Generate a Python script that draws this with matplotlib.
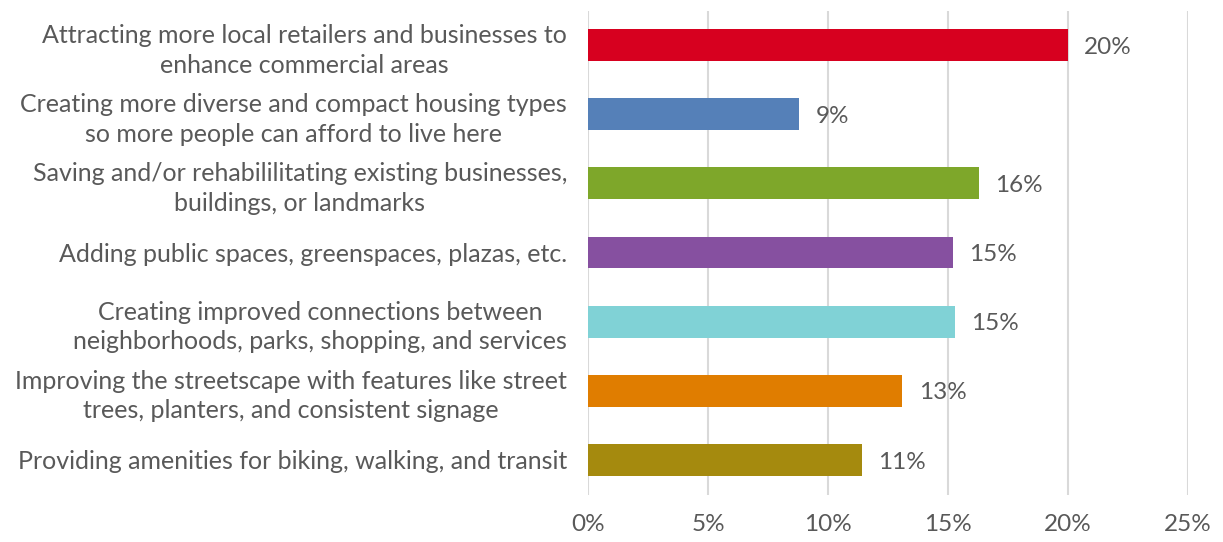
import matplotlib
matplotlib.use('Agg')
import matplotlib.pyplot as plt

# %% data
categories = [
    'Attracting more local retailers and businesses to\nenhance commercial areas',
    'Creating more diverse and compact housing types\nso more people can afford to live here',
    'Saving and/or rehabililitating existing businesses,\nbuildings, or landmarks',
    'Adding public spaces, greenspaces, plazas, etc.',
    'Creating improved connections between\nneighborhoods, parks, shopping, and services',
    'Improving the streetscape with features like street\ntrees, planters, and consistent signage',
    'Providing amenities for biking, walking, and transit',
]
values = [20.0, 8.8, 16.3, 15.2, 15.3, 13.1, 11.4]
value_labels = ['20%', '9%', '16%', '15%', '15%', '13%', '11%']
bar_colors = ['#D7001F', '#5580B8', '#7EA72A', '#8650A0', '#80D2D6', '#E07D00', '#A58A0E']
x_ticks = [0, 5, 10, 15, 20, 25]
x_tick_labels = ['0%', '5%', '10%', '15%', '20%', '25%']

TEXT_COLOR = '#595959'
FS = 17.5
plt.rcParams['font.family'] = ['Lato', 'DejaVu Sans']

# %% plot
fig = plt.figure(figsize=(12.23, 5.42), dpi=100)
ax = fig.add_axes([0.4808, 0.0876, 0.4906, 0.893])

y_pos = list(range(len(categories)))
ax.barh(y_pos, values, height=0.46, color=bar_colors, zorder=3)

for y, v, lab in zip(y_pos, values, value_labels):
    ax.text(v + 0.68, y + 0.03, lab, va='center', ha='left', fontsize=FS, color=TEXT_COLOR)

ax.set_xlim(0, 25)
ax.set_ylim(len(categories) - 0.5, -0.5)
ax.set_yticks(y_pos)
ax.set_yticklabels(categories, fontsize=18, color=TEXT_COLOR, ha='right',
                   multialignment='center', linespacing=1.35)
ax.set_xticks(x_ticks)
ax.set_xticklabels(x_tick_labels, fontsize=FS, color=TEXT_COLOR)

ax.grid(axis='x', color='#D9D9D9', linewidth=1.5, zorder=0)
for s in ax.spines.values():
    s.set_visible(False)
ax.tick_params(axis='both', length=0)
ax.tick_params(axis='x', pad=14)
ax.tick_params(axis='y', pad=15)

fig.savefig('out.png', dpi=100)
